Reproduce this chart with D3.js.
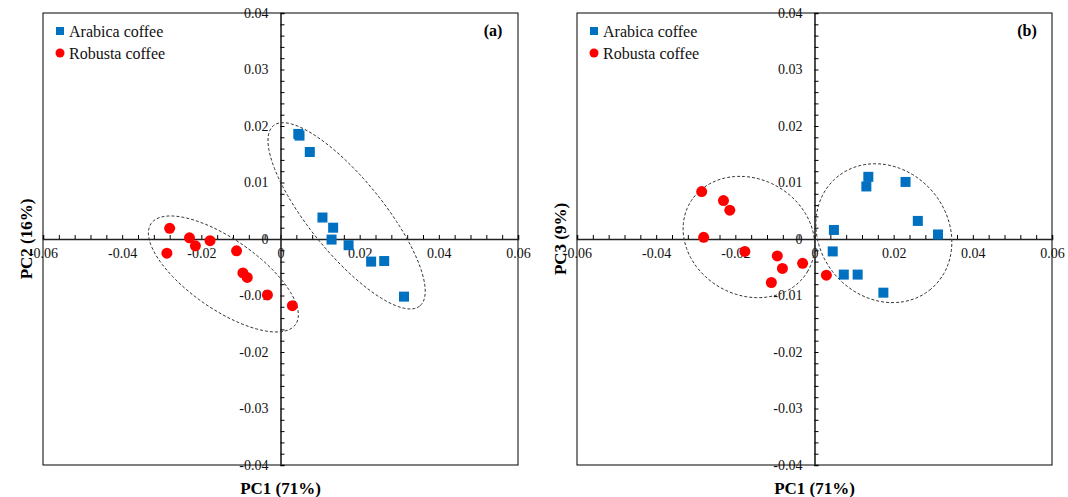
<!DOCTYPE html>
<html>
<head>
<meta charset="utf-8">
<script src="https://cdn.jsdelivr.net/npm/d3@7"></script>
<style>
  body { margin: 0; background: #fff; }
  svg { display: block; font-family: "Liberation Serif", "Times New Roman", serif; }
  svg text { font-family: "Liberation Serif", "Times New Roman", serif; }
</style>
</head>
<body>
<svg width="1068" height="497"></svg>
<script>
// values
const arabicaPc1A = [0.0045, 0.0048, 0.0074, 0.0106, 0.0133, 0.0129, 0.0172, 0.0229, 0.0262, 0.0312];
const arabicaPc2A = [0.0186, 0.0183, 0.0154, 0.0038, 0.0020, -0.0001, -0.0011, -0.0040, -0.0039, -0.0102];
const robustaPc1A = [-0.0280, -0.0287, -0.0230, -0.0215, -0.0178, -0.0111, -0.0095, -0.0084, -0.0033, 0.0030];
const robustaPc2A = [0.0019, -0.0025, 0.0002, -0.0012, -0.0003, -0.0021, -0.0060, -0.0068, -0.0099, -0.0118];

const arabicaPc1B = [0.0136, 0.0131, 0.0230, 0.0261, 0.0312, 0.0049, 0.0046, 0.0074, 0.0109, 0.0174];
const arabicaPc3B = [0.0110, 0.0093, 0.0101, 0.0032, 0.0008, 0.0016, -0.0022, -0.0063, -0.0063, -0.0095];
const robustaPc1B = [-0.0285, -0.0230, -0.0214, -0.0280, -0.0176, -0.0094, -0.0081, -0.0030, -0.0109, 0.0030];
const robustaPc3B = [0.0084, 0.0068, 0.0051, 0.0003, -0.0022, -0.0030, -0.0052, -0.0043, -0.0077, -0.0064];

// confidence ellipses: centre and two half-axis vectors, all in data units
const ellipsesA = [
    { c: [0.0167, 0.0041], u: [0.01848, -0.01596], v: [-0.00728, -0.00412] },
    { c: [-0.01443, -0.00619], u: [0.01825, -0.00893], v: [-0.00508, -0.00507] }
];
const ellipsesB = [
    { c: [-0.01658, 0.00035], u: [0.01491, -0.00602], v: [-0.00734, -0.00889] },
    { c: [0.01752, 0.00103], u: [0.01188, -0.00990], v: [-0.01241, -0.00728] }
];

const xTicks = [-0.06, -0.04, -0.02, 0, 0.02, 0.04, 0.06];
const yTicks = [-0.04, -0.03, -0.02, -0.01, 0, 0.01, 0.02, 0.03, 0.04];
const xLabel = 'PC1 (71%)';
const seriesNames = ['Arabica coffee', 'Robusta coffee'];

const svg = d3.select('svg');
const serif = '"Liberation Serif", "Times New Roman", serif';
const fmt = v => v === 0 ? '0' : d3.format('.2f')(v).replace('\u2212', '-');

function drawPanel(left, yLabel, tag, arabica, robusta, ellipses) {
    const top = 13, width = 475, height = 452;
    const g = svg.append('g').attr('transform', `translate(${left},${top})`);

    const x = d3.scaleLinear().domain([-0.06, 0.06]).range([0, width]);
    const y = d3.scaleLinear().domain([-0.04, 0.04]).range([height, 0]);

    // frame
    g.append('rect').attr('width', width).attr('height', height)
        .attr('fill', 'none').attr('stroke', '#000').attr('stroke-width', 1);

    // small ticks on the crossing axes
    const yMinor = d3.range(-20, 21).map(i => i * 0.002);
    const xMinor = d3.range(-15, 16).map(i => i * 0.004);

    g.append('g').attr('transform', `translate(${x(0)},0)`)
        .call(d3.axisRight(y).tickValues(yMinor).tickSize(4).tickFormat(''))
        .call(a => a.select('.domain').attr('stroke-width', 1.6).attr('stroke', '#222'));
    g.append('g').attr('transform', `translate(0,${y(0)})`)
        .call(d3.axisTop(x).tickValues(xMinor).tickSize(4).tickFormat(''))
        .call(a => a.select('.domain').attr('stroke-width', 1.6).attr('stroke', '#222'));

    // tick labels
    g.append('g').attr('transform', `translate(${x(0)},0)`)
        .call(d3.axisLeft(y).tickValues(yTicks).tickSize(0).tickPadding(12).tickFormat(fmt))
        .attr('font-family', serif).attr('font-size', 14)
        .call(a => a.select('.domain').remove())
        .call(a => a.selectAll('text').attr('fill', '#111'));
    g.append('g').attr('transform', `translate(0,${y(0)})`)
        .call(d3.axisBottom(x).tickValues(xTicks).tickSize(0).tickPadding(9).tickFormat(fmt))
        .attr('font-family', serif).attr('font-size', 14)
        .call(a => a.select('.domain').remove())
        .call(a => a.selectAll('text').attr('fill', '#111'));

    // ellipses
    const steps = d3.range(0, 120).map(i => i / 120 * 2 * Math.PI);
    const line = d3.line().curve(d3.curveLinearClosed)
        .x(p => x(p[0])).y(p => y(p[1]));
    g.selectAll('path.ell').data(ellipses).enter().append('path')
        .attr('class', 'ell')
        .attr('d', e => line(steps.map(t => [
            e.c[0] + e.u[0] * Math.cos(t) + e.v[0] * Math.sin(t),
            e.c[1] + e.u[1] * Math.cos(t) + e.v[1] * Math.sin(t)
        ])))
        .attr('fill', 'none').attr('stroke', '#333').attr('stroke-width', 1)
        .attr('stroke-dasharray', '3,2');

    // points
    const sq = 10;
    g.selectAll('rect.ara').data(arabica).enter().append('rect')
        .attr('class', 'ara')
        .attr('x', d => x(d[0]) - sq / 2).attr('y', d => y(d[1]) - sq / 2)
        .attr('width', sq).attr('height', sq).attr('fill', '#0070C0');
    g.selectAll('circle.rob').data(robusta).enter().append('circle')
        .attr('class', 'rob')
        .attr('cx', d => x(d[0])).attr('cy', d => y(d[1])).attr('r', 5.5)
        .attr('fill', '#FF0000');

    // legend
    const lg = g.append('g').attr('transform', 'translate(13,18)');
    lg.append('rect').attr('x', 0).attr('y', -4).attr('width', 8).attr('height', 8).attr('fill', '#0070C0');
    lg.append('circle').attr('cx', 4).attr('cy', 22).attr('r', 4.5).attr('fill', '#FF0000');
    lg.selectAll('text').data(seriesNames).enter().append('text')
        .attr('x', 13).attr('y', (d, i) => i * 22).attr('dy', '0.35em')
        .attr('font-size', 16).attr('fill', '#111').text(d => d);

    g.append('text').attr('x', width - 25).attr('y', 23).attr('text-anchor', 'middle')
        .attr('font-size', 16).attr('font-weight', 'bold').text(tag);

    // axis titles
    g.append('text').attr('x', x(0)).attr('y', height + 29).attr('text-anchor', 'middle')
        .attr('font-size', 17).attr('font-weight', 'bold').text(xLabel);
    g.append('text').attr('transform', `translate(${-17},${y(0)}) rotate(-90)`)
        .attr('text-anchor', 'middle').attr('dy', '0.35em')
        .attr('font-size', 17).attr('font-weight', 'bold').text(yLabel);
}

drawPanel(43, 'PC2 (16%)', '(a)',
    d3.zip(arabicaPc1A, arabicaPc2A), d3.zip(robustaPc1A, robustaPc2A), ellipsesA);
drawPanel(577, 'PC3 (9%)', '(b)',
    d3.zip(arabicaPc1B, arabicaPc3B), d3.zip(robustaPc1B, robustaPc3B), ellipsesB);
</script>
</body>
</html>
